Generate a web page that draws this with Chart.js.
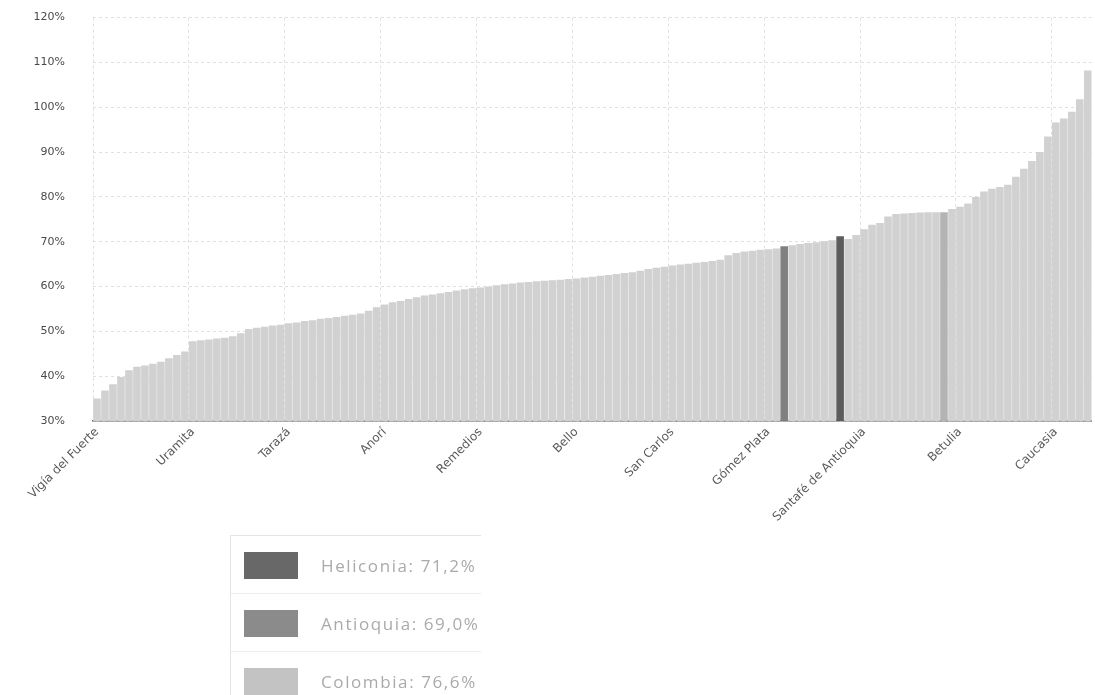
<!DOCTYPE html>
<html>
<head>
<meta charset="utf-8">
<script src="https://cdn.jsdelivr.net/npm/chart.js@4/dist/chart.umd.min.js"></script>
<style>
  html, body { margin:0; padding:0; background:#fff; }
  #wrap { position:relative; width:1095px; height:695px; overflow:hidden; }
  #c { position:absolute; left:0; top:-17px; }
  #legend { position:absolute; left:230px; top:535px; width:250px; height:175px; border:1px solid #e4e4e4; border-right:none; overflow:hidden; font-family:"Open Sans", sans-serif; }
  .row { position:relative; height:57px; border-bottom:1px solid #ececec; }
  .sw { position:absolute; left:13px; top:16px; width:54px; height:27px; }
  .tx { position:absolute; left:90px; top:18px; font-size:17px; color:#aaaaaa; white-space:nowrap; letter-spacing:1.6px; }
</style>
</head>
<body>
<div id="wrap">
  <canvas id="c" width="1102" height="712"></canvas>
  <div id="legend"></div>
</div>
<script>
// ---- data ----
const tickLabels = ["Vigía del Fuerte", "Uramita", "Tarazá", "Anorí", "Remedios", "Bello",
                    "San Carlos", "Gómez Plata", "Santafé de Antioquia", "Betulia", "Caucasia"];
const tickEvery = 12;

const values = [
  35.0, 36.8, 38.2, 39.8, 41.3, 42.1, 42.4, 42.8, 43.2, 44.0,
  44.7, 45.5, 47.8, 48.0, 48.2, 48.4, 48.6, 48.9, 49.6, 50.5,
  50.8, 51.0, 51.3, 51.5, 51.8, 52.0, 52.3, 52.5, 52.8, 53.0,
  53.2, 53.5, 53.7, 54.0, 54.6, 55.4, 56.0, 56.5, 56.8, 57.2,
  57.6, 58.0, 58.2, 58.5, 58.8, 59.1, 59.4, 59.6, 59.8, 60.0,
  60.3, 60.5, 60.7, 60.9, 61.0, 61.2, 61.3, 61.4, 61.5, 61.7,
  61.8, 62.0, 62.2, 62.4, 62.6, 62.8, 63.0, 63.2, 63.5, 63.9,
  64.2, 64.4, 64.7, 64.9, 65.1, 65.3, 65.5, 65.7, 66.0, 67.0,
  67.5, 67.8, 68.0, 68.2, 68.3, 68.5, 69.0, 69.2, 69.5, 69.7,
  69.9, 70.1, 70.3, 71.2, 70.6, 71.5, 72.8, 73.8, 74.2, 75.6,
  76.2, 76.3, 76.4, 76.5, 76.6, 76.6, 76.6, 77.3, 77.8, 78.5,
  80.0, 81.2, 81.8, 82.2, 82.7, 84.5, 86.3, 88.0, 90.0, 93.5,
  96.6, 97.5, 99.0, 101.8, 108.2
];

const highlightNames  = ["Heliconia", "Antioquia", "Colombia"];
const highlightValues = [71.2, 69.0, 76.6];
const highlightRank   = [93, 86, 106];   // position in the sorted list
const highlightLabels = ["71,2%", "69,0%", "76,6%"];

const yTicks = { min: 30, max: 120, step: 10 };

// ---- styles ----
const baseColor = "#d1d1d1";
const barColors = ["#5c5c5c", "#808080", "#b4b4b4"];
const swatchColors = ["#686868", "#8b8b8b", "#c3c3c3"];

// ---- build categories ----
const categories = values.map((v, i) => {
  const h = highlightRank.indexOf(i);
  if (h >= 0) return highlightNames[h];
  if (i % tickEvery === 0) return tickLabels[i / tickEvery] || "";
  return "";
});
const colors = values.map((v, i) => {
  const h = highlightRank.indexOf(i);
  return h >= 0 ? barColors[h] : baseColor;
});

const gridColor = "#e0e0e0";

new Chart(document.getElementById("c"), {
  type: "bar",
  data: {
    labels: categories,
    datasets: [{
      data: values,
      backgroundColor: colors,
      borderWidth: 0,
      barPercentage: 0.95,
      categoryPercentage: 1.0
    }]
  },
  options: {
    responsive: false,
    animation: false,
    devicePixelRatio: 1,
    layout: { padding: { top: 0, right: 2, left: 0, bottom: 0 } },
    plugins: { legend: { display: false }, tooltip: { enabled: false } },
    scales: {
      x: {
        grid: {
          offset: true, drawTicks: false, lineWidth: 1,
          color: c => (c.index % tickEvery === 0 ? gridColor : "rgba(0,0,0,0)")
        },
        border: { color: "#6a6a6a", width: 1.6, dash: [3, 3] },
        ticks: {
          autoSkip: false, maxRotation: 45, minRotation: 45, padding: 4,
          color: "#5a5a5a", font: { family: "DejaVu Sans", size: 12 },
          callback: (v, i) => (i % tickEvery === 0 ? tickLabels[i / tickEvery] : "")
        },
        afterFit: s => { s.height = 274; }
      },
      y: {
        min: yTicks.min, max: yTicks.max,
        grid: { color: gridColor, drawTicks: false, lineWidth: 1 },
        border: { display: false, dash: [3, 3] },
        ticks: {
          stepSize: yTicks.step, padding: 28,
          color: "#4a4a4a", font: { family: "DejaVu Sans", size: 11 },
          callback: v => v + "%"
        },
        afterFit: s => { s.width = 93; }
      }
    }
  }
});

// ---- legend ----
const lg = document.getElementById("legend");
highlightNames.forEach((n, k) => {
  const row = document.createElement("div");
  row.className = "row";
  const sw = document.createElement("div");
  sw.className = "sw";
  sw.style.background = swatchColors[k];
  const tx = document.createElement("div");
  tx.className = "tx";
  tx.textContent = n + ":  " + highlightLabels[k];
  row.appendChild(sw); row.appendChild(tx);
  lg.appendChild(row);
});
</script>
</body>
</html>
